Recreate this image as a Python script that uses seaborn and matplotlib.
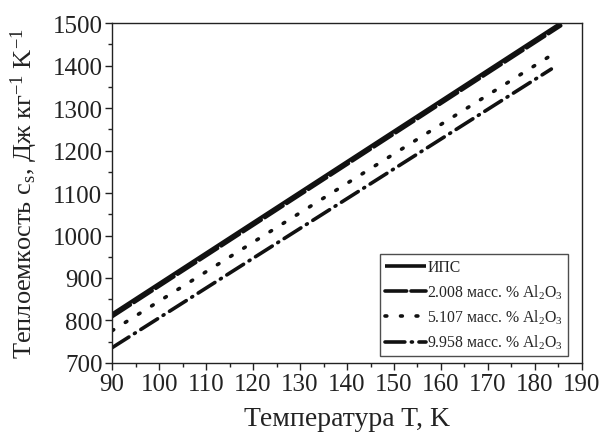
import numpy as np
import pandas as pd
import matplotlib
matplotlib.use("Agg")
import matplotlib.pyplot as plt
import seaborn as sns

# Данные: прямые теплоемкости
t_ips = [90, 185.5]
c_ips = [815, 1500]
t_2008 = [90, 185.5]
c_2008 = [809, 1494]
t_5107 = [90, 185]
c_5107 = [776, 1435]
t_9958 = [90, 183.5]
c_9958 = [736, 1392]

labels = ["ИПС",
          "2.008 масс. % Al$_2$O$_3$",
          "5.107 масс. % Al$_2$O$_3$",
          "9.958 масс. % Al$_2$O$_3$"]

sns.set_style("ticks")
plt.rcParams["font.family"] = ["Liberation Serif", "DejaVu Serif"]
plt.rcParams["mathtext.fontset"] = "custom"
plt.rcParams["mathtext.rm"] = "Liberation Serif"
plt.rcParams["mathtext.it"] = "Liberation Serif:italic"
plt.rcParams["mathtext.default"] = "regular"

fig = plt.figure(figsize=(6.03, 4.39), dpi=100)
ax = fig.add_axes([0.186, 0.171, 0.779, 0.774])

series = [(t_ips, c_ips, "-"),
          (t_2008, c_2008, (0, (6, 1.2))),
          (t_5107, c_5107, (0, (0.5, 3.8))),
          (t_9958, c_9958, (0, (5.5, 1.8, 0.3, 1.8)))]

for (t, c, ls), lab in zip(series, labels):
    df = pd.DataFrame({"T": t, "c": c})
    sns.lineplot(data=df, x="T", y="c", ax=ax, color="#111111", lw=2.6,
                 linestyle=ls, label=lab, dash_capstyle="round",
                 solid_capstyle="butt")

ax.set_xlim(90, 190)
ax.set_ylim(700, 1500)
ax.set_xticks(np.arange(90, 191, 10))
ax.set_yticks(np.arange(700, 1501, 100))
ax.set_xticks(np.arange(95, 190, 10), minor=True)
ax.set_yticks(np.arange(750, 1500, 100), minor=True)
ax.tick_params(which="major", direction="out", length=5, width=1,
               labelsize=18, pad=2, color="#222222", labelcolor="#222222")
ax.tick_params(which="minor", direction="out", length=3, width=1,
               color="#222222")
for s in ax.spines.values():
    s.set_linewidth(1)
    s.set_color("#222222")

ax.set_xlabel("Температура T, K", fontsize=20, color="#222222", labelpad=8)
ax.set_ylabel("Теплоемкость c$_s$, Дж кг$^{-1}$ K$^{-1}$", fontsize=19,
              color="#222222", labelpad=9)

leg = ax.legend(loc="lower right", bbox_to_anchor=(0.97, 0.02),
                borderaxespad=0, fontsize=11.3, frameon=True, fancybox=False,
                handlelength=2.6, handletextpad=0.1, labelspacing=0.45,
                borderpad=0.3)
leg.get_frame().set_edgecolor("#222222")
leg.get_frame().set_linewidth(1)

fig.savefig("out.png", dpi=100)
